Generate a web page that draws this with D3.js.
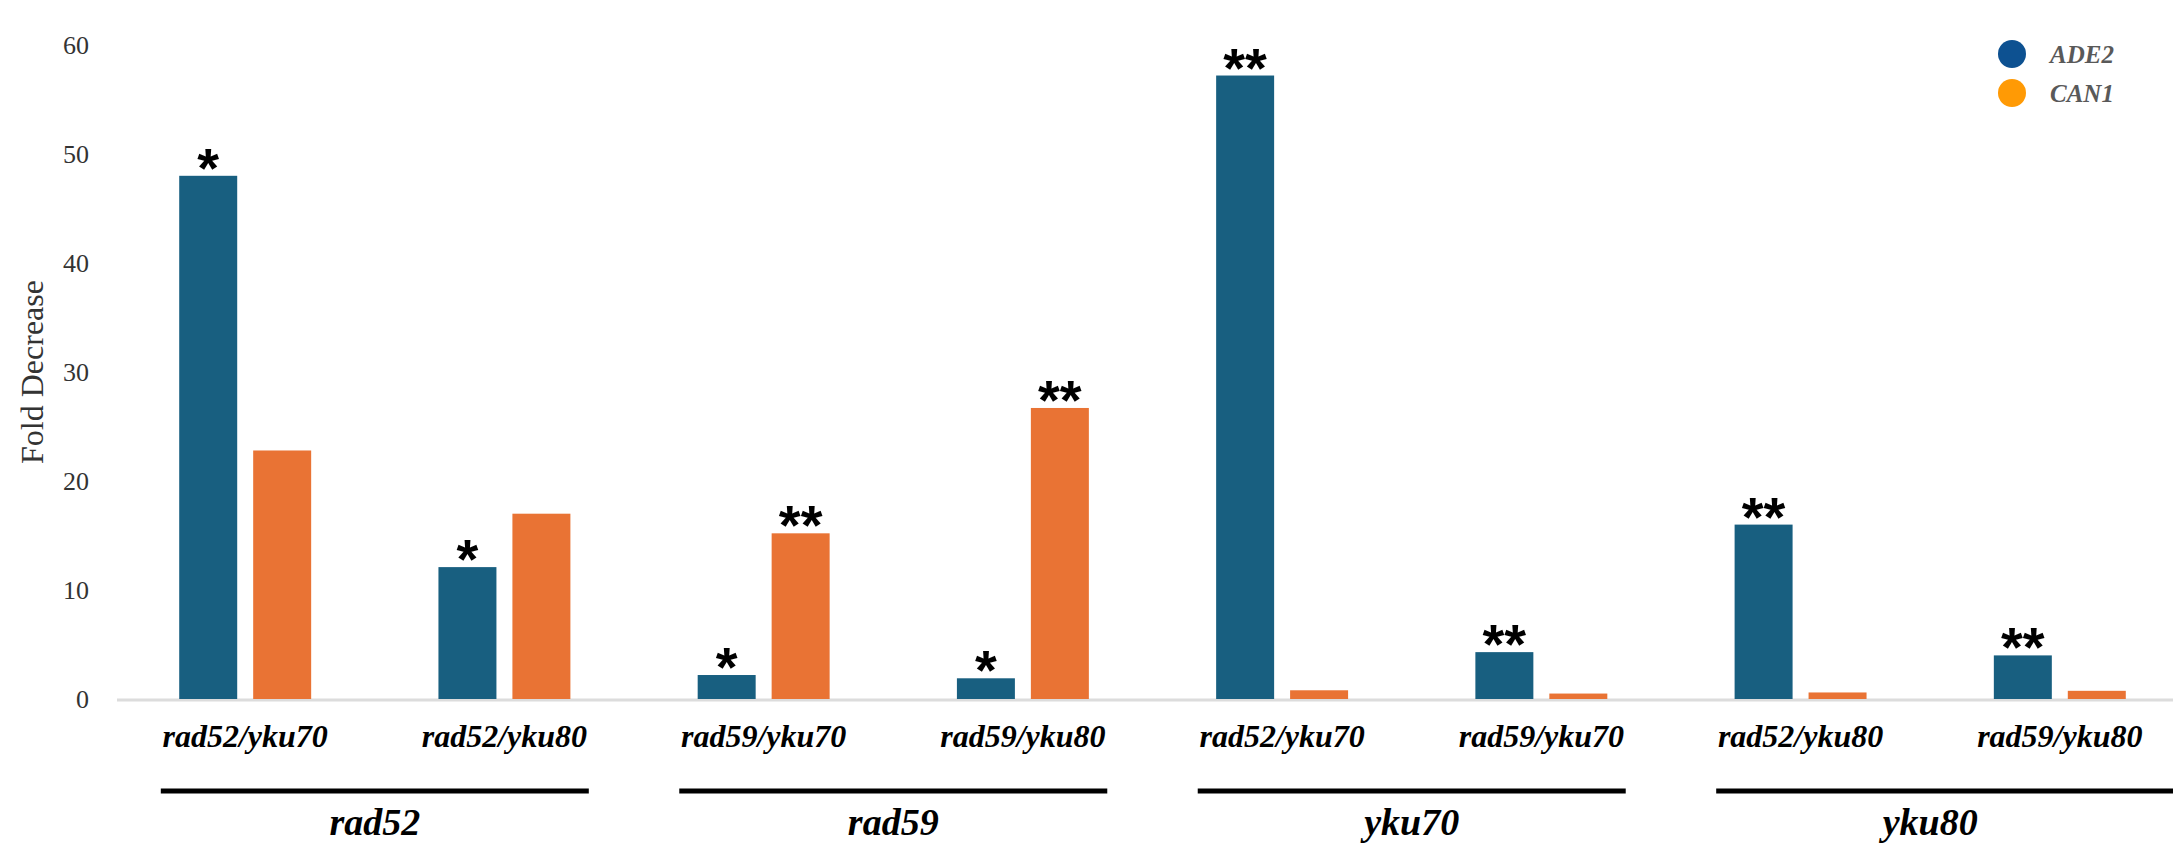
<!DOCTYPE html>
<html>
<head>
<meta charset="utf-8">
<script src="https://cdn.jsdelivr.net/npm/d3@7"></script>
<style>
  body { margin: 0; background: #fff; }
  svg { display: block; }
</style>
</head>
<body>
<div id="chart"></div>
<script>
const categories = [
  'rad52/yku70', 'rad52/yku80',
  'rad59/yku70', 'rad59/yku80',
  'rad52/yku70', 'rad59/yku70',
  'rad52/yku80', 'rad59/yku80',
]
const seriesNames = ['ADE2', 'CAN1']
const ade2Values = [48.0, 12.1, 2.2, 1.9, 57.2, 4.3, 16.0, 4.0]
const can1Values = [22.8, 17.0, 15.2, 26.7, 0.8, 0.5, 0.6, 0.75]
const ade2Stars = ['*', '*', '*', '*', '**', '**', '**', '**']
const can1Stars = ['', '', '**', '**', '', '', '', '']
const groupLabels = ['rad52', 'rad59', 'yku70', 'yku80']
const yTicks = [0, 10, 20, 30, 40, 50, 60]

const width = 2173
const height = 850
const barColors = { ADE2: '#185f80', CAN1: '#e97334' }
const legendColors = { ADE2: '#0d5191', CAN1: '#ff9a05' }
const serif = '"Liberation Serif", "Times New Roman", serif'

const rows = categories.map((c, i) => ({
  idx: i,
  category: c,
  ADE2: ade2Values[i],
  CAN1: can1Values[i],
  stars: { ADE2: ade2Stars[i], CAN1: can1Stars[i] },
}))

const svg = d3
  .select('#chart')
  .append('svg')
  .attr('width', width)
  .attr('height', height)
  .style('background', '#fff')

const xScale = d3
  .scaleBand()
  .domain(rows.map(d => d.idx))
  .range([117, 2188])
  .paddingInner(0.491)
  .paddingOuter(0.24)

const xInner = d3
  .scaleBand()
  .domain(seriesNames)
  .range([0, xScale.bandwidth()])
  .paddingInner(0.216)

const yScale = d3.scaleLinear().domain([0, 60]).range([699, 45])

// y tick labels, no axis line
svg
  .append('g')
  .attr('transform', 'translate(89,0)')
  .call(d3.axisLeft(yScale).tickValues(yTicks).tickSize(0).tickPadding(0))
  .call(g => g.select('.domain').remove())
  .call(g =>
    g
      .selectAll('.tick text')
      .attr('fill', '#333')
      .style('font-family', serif)
      .style('font-size', '26px'),
  )

svg
  .append('text')
  .attr('transform', `translate(43, 372) rotate(-90)`)
  .attr('text-anchor', 'middle')
  .attr('fill', '#333')
  .style('font-family', serif)
  .style('font-size', '32px')
  .text('Fold Decrease')

// baseline
svg
  .append('line')
  .attr('x1', 117)
  .attr('x2', width)
  .attr('y1', yScale(0) + 1)
  .attr('y2', yScale(0) + 1)
  .attr('stroke', '#dcdcdc')
  .attr('stroke-width', 3)

const groups = svg
  .append('g')
  .selectAll('g')
  .data(rows)
  .join('g')
  .attr('transform', d => `translate(${xScale(d.idx)},0)`)

groups
  .selectAll('rect')
  .data(d => seriesNames.map(s => ({ key: s, value: d[s] })))
  .join('rect')
  .attr('x', d => xInner(d.key))
  .attr('y', d => yScale(d.value))
  .attr('width', xInner.bandwidth())
  .attr('height', d => yScale(0) - yScale(d.value))
  .attr('fill', d => barColors[d.key])

groups
  .selectAll('text.star')
  .data(d => seriesNames.map(s => ({ key: s, value: d[s], star: d.stars[s] })))
  .join('text')
  .attr('class', 'star')
  .attr('x', d => xInner(d.key) + xInner.bandwidth() / 2)
  .attr('y', d => yScale(d.value) + 11)
  .attr('text-anchor', 'middle')
  .attr('fill', '#000')
  .style('font-family', '"Liberation Sans", Arial, sans-serif')
  .style('font-weight', 'bold')
  .style('font-size', '56px')
  .text(d => d.star)

// category labels
groups
  .append('text')
  .attr('x', xScale.bandwidth() / 2)
  .attr('y', 747)
  .attr('text-anchor', 'middle')
  .attr('fill', '#000')
  .style('font-family', serif)
  .style('font-weight', 'bold')
  .style('font-style', 'italic')
  .style('font-size', '32px')
  .text(d => d.category)

// group brackets
const pairMid = i =>
  (xScale(i * 2) + xScale(i * 2 + 1) + xScale.bandwidth()) / 2

const groupG = svg
  .append('g')
  .selectAll('g')
  .data(groupLabels)
  .join('g')

groupG
  .append('line')
  .attr('x1', (d, i) => pairMid(i) - 214)
  .attr('x2', (d, i) => (i === groupLabels.length - 1 ? width : pairMid(i) + 214))
  .attr('y1', 791)
  .attr('y2', 791)
  .attr('stroke', '#000')
  .attr('stroke-width', 5)

groupG
  .append('text')
  .attr('x', (d, i) => pairMid(i))
  .attr('y', 835)
  .attr('text-anchor', 'middle')
  .attr('fill', '#000')
  .style('font-family', serif)
  .style('font-weight', 'bold')
  .style('font-style', 'italic')
  .style('font-size', '38px')
  .text(d => d)

// legend
const legend = svg
  .append('g')
  .selectAll('g')
  .data(seriesNames)
  .join('g')
  .attr('transform', (d, i) => `translate(2012, ${54 + i * 39})`)

legend
  .append('circle')
  .attr('r', 14)
  .attr('fill', d => legendColors[d])

legend
  .append('text')
  .attr('x', 38)
  .attr('y', 0)
  .attr('dy', '0.35em')
  .attr('fill', '#595959')
  .style('font-family', serif)
  .style('font-weight', 'bold')
  .style('font-style', 'italic')
  .style('font-size', '25px')
  .text(d => d)
</script>
</body>
</html>
